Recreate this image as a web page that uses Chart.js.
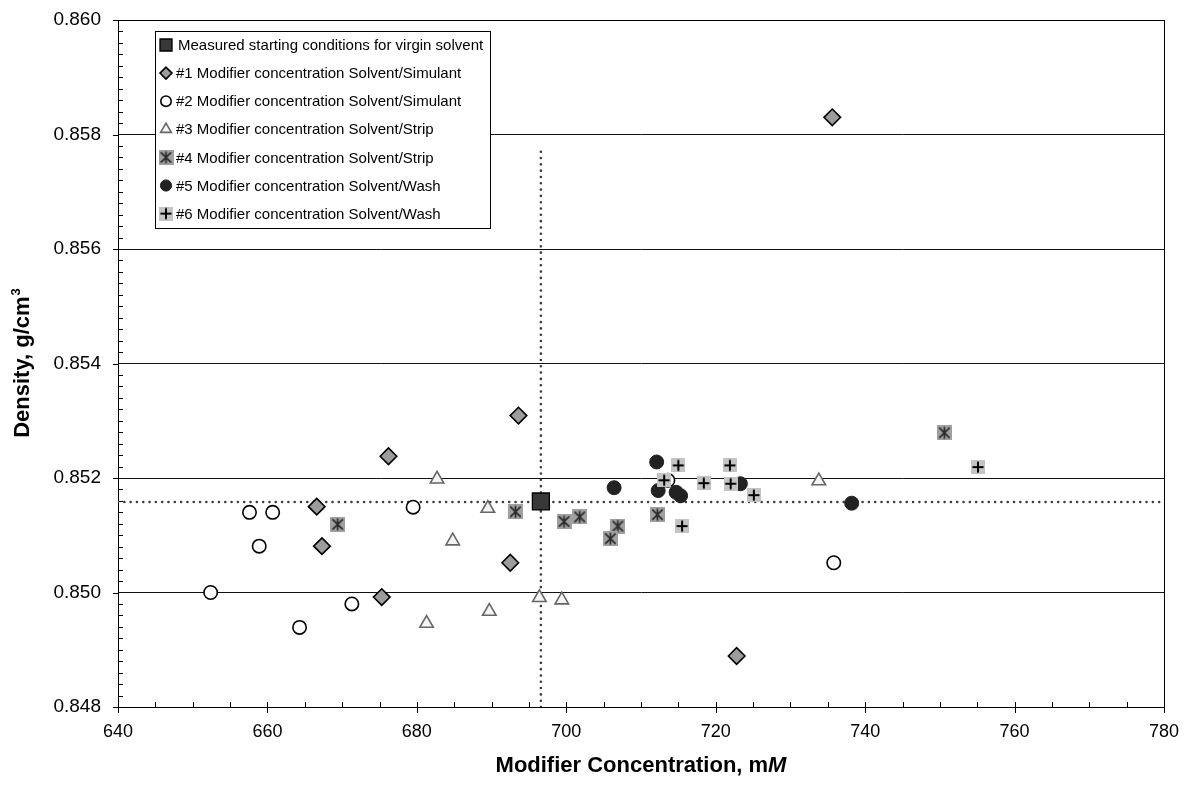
<!DOCTYPE html>
<html>
<head>
<meta charset="utf-8">
<script src="https://cdn.jsdelivr.net/npm/chart.js@4.4.1/dist/chart.umd.min.js"></script>
<style>
  body { margin: 0; background: #fff; }
  #wrap { width: 1194px; height: 785px; position: relative; }
</style>
</head>
<body>
<div id="wrap"><canvas id="densityChart"></canvas></div>
<script>
// ---- data ----
const legendLabels = [
  'Measured starting conditions for virgin solvent',
  '#1 Modifier concentration Solvent/Simulant',
  '#2 Modifier concentration Solvent/Simulant',
  '#3 Modifier concentration Solvent/Strip',
  '#4 Modifier concentration Solvent/Strip',
  '#5 Modifier concentration Solvent/Wash',
  '#6 Modifier concentration Solvent/Wash'
];

const startX = [696.6];
const startY = [0.85159];

const s1X = [676.2, 666.6, 667.3, 675.3, 693.6, 692.5, 722.8, 735.6];
const s1Y = [0.85238, 0.85150, 0.85081, 0.84992, 0.85309, 0.85052, 0.84889, 0.85830];

const s2X = [657.6, 660.7, 658.9, 652.4, 671.3, 664.3, 679.5, 735.8, 713.6];
const s2Y = [0.85140, 0.85140, 0.85081, 0.85000, 0.84980, 0.84939, 0.85149, 0.85052, 0.85196];

const s3X = [682.7, 689.5, 684.8, 696.4, 699.4, 689.7, 681.3, 733.8];
const s3Y = [0.85198, 0.85147, 0.85090, 0.84991, 0.84987, 0.84967, 0.84946, 0.85195];

const s4X = [669.4, 693.2, 699.7, 701.8, 706.9, 705.9, 712.2, 750.6];
const s4Y = [0.85119, 0.85141, 0.85124, 0.85132, 0.85116, 0.85094, 0.85136, 0.85279];

const s5X = [706.4, 712.1, 712.3, 714.7, 715.3, 723.3, 738.2];
const s5Y = [0.85183, 0.85228, 0.85178, 0.85175, 0.85169, 0.85190, 0.85156];

const s6X = [715.0, 713.1, 718.4, 715.5, 721.9, 722.0, 725.1, 755.1];
const s6Y = [0.85222, 0.85196, 0.85191, 0.85116, 0.85222, 0.85190, 0.85170, 0.85219];

// dotted guide lines through the starting point
const refX = 696.6;
const refY = 0.85158;
const refTop = 0.8578;

const xTicks = [640, 660, 680, 700, 720, 740, 760, 780];
const yTicks = [0.848, 0.850, 0.852, 0.854, 0.856, 0.858, 0.860];
const xMinorStep = 5;
const yMinorStep = 0.0002;

const xTitle = 'Modifier Concentration, m';
const xTitleItalic = 'M';
const yTitle = 'Density, g/cm';
const yTitleSup = '3';

function pts(xs, ys) {
  return xs.map((x, i) => ({ x: x, y: ys[i] }));
}

// little square markers with a glyph drawn on top
function asteriskBox() {
  const c = document.createElement('canvas');
  c.width = 15; c.height = 15;
  const g = c.getContext('2d');
  g.fillStyle = '#a0a0a0';
  g.fillRect(0, 0, 15, 15);
  g.strokeStyle = '#2a2a2a';
  g.lineWidth = 1.7;
  g.beginPath();
  g.moveTo(7.5, 1.5); g.lineTo(7.5, 13.5);
  g.moveTo(2.3, 2.3); g.lineTo(12.7, 12.7);
  g.moveTo(12.7, 2.3); g.lineTo(2.3, 12.7);
  g.stroke();
  return c;
}
function plusBox() {
  const c = document.createElement('canvas');
  c.width = 14; c.height = 14;
  const g = c.getContext('2d');
  g.fillStyle = '#c4c4c4';
  g.fillRect(0, 0, 14, 14);
  g.strokeStyle = '#000';
  g.lineWidth = 2;
  g.beginPath();
  g.moveTo(1.5, 7); g.lineTo(12.5, 7);
  g.moveTo(7, 1.5); g.lineTo(7, 12.5);
  g.stroke();
  return c;
}
const asteriskImg = asteriskBox();
const plusImg = plusBox();

const FONT = "'Liberation Sans', Arial, sans-serif";
Chart.defaults.font.family = FONT;
Chart.defaults.color = '#000';

const axisExtras = {
  id: 'axisExtras',
  beforeDatasetsDraw(chart) {
    const { ctx, chartArea: a, scales: { x, y } } = chart;
    ctx.save();
    ctx.strokeStyle = '#000';
    ctx.lineWidth = 1;
    ctx.strokeRect(Math.round(a.left) + 0.5, Math.round(a.top) + 0.5,
      Math.round(a.right - a.left), Math.round(a.bottom - a.top));
    ctx.beginPath();
    // y minor ticks (inside) and major ticks (outside)
    for (let v = y.min; v <= y.max + 1e-9; v += yMinorStep) {
      const py = Math.round(y.getPixelForValue(v)) + 0.5;
      const isMajor = yTicks.some(t => Math.abs(t - v) < 1e-7);
      if (isMajor) { ctx.moveTo(a.left - 5, py); ctx.lineTo(a.left, py); }
      else { ctx.moveTo(a.left, py); ctx.lineTo(a.left + 5, py); }
    }
    // x minor ticks (inside), majors crossing
    for (let v = x.min; v <= x.max + 1e-9; v += xMinorStep) {
      const px = Math.round(x.getPixelForValue(v)) + 0.5;
      const isMajor = xTicks.includes(v);
      if (isMajor) { ctx.moveTo(px, a.bottom - 5); ctx.lineTo(px, a.bottom + 6); }
      else { ctx.moveTo(px, a.bottom - 5); ctx.lineTo(px, a.bottom); }
    }
    ctx.stroke();
    ctx.restore();
  },
  afterDraw(chart) {
    const { ctx, chartArea: a } = chart;
    ctx.save();
    ctx.fillStyle = '#000';
    ctx.textBaseline = 'middle';
    ctx.textAlign = 'left';
    const size = 22;
    const bold = `bold ${size}px ${FONT}`;
    const boldIt = `italic bold ${size}px ${FONT}`;
    const sup = `bold ${Math.round(size * 0.6)}px ${FONT}`;
    // x title
    ctx.font = bold;
    const w1 = ctx.measureText(xTitle).width;
    ctx.font = boldIt;
    const w2 = ctx.measureText(xTitleItalic).width;
    const sx0 = (a.left + a.right) / 2 - (w1 + w2) / 2;
    ctx.font = bold;
    ctx.fillText(xTitle, sx0, 766);
    ctx.font = boldIt;
    ctx.fillText(xTitleItalic, sx0 + w1, 766);
    // y title
    ctx.font = bold;
    const w3 = ctx.measureText(yTitle).width;
    ctx.font = sup;
    const w4 = ctx.measureText(yTitleSup).width;
    ctx.save();
    ctx.translate(23, (a.top + a.bottom) / 2);
    ctx.rotate(-Math.PI / 2);
    const sy0 = -(w3 + w4) / 2;
    ctx.font = bold;
    ctx.fillText(yTitle, sy0, 0);
    ctx.font = sup;
    ctx.fillText(yTitleSup, sy0 + w3 + 1, -7);
    ctx.restore();
    ctx.restore();
  }
};

const boxLegend = {
  id: 'boxLegend',
  afterDatasetsDraw(chart) {
    const { ctx } = chart;
    const left = 155, top = 31, right = 490, bottom = 228;
    ctx.save();
    ctx.fillStyle = '#fff';
    ctx.fillRect(left, top, right - left, bottom - top);
    ctx.strokeStyle = '#000';
    ctx.lineWidth = 1;
    ctx.strokeRect(left + 0.5, top + 0.5, right - left, bottom - top);
    const items = chart.data.datasets.filter(d => d.inLegend);
    ctx.font = `15px ${FONT}`;
    ctx.textBaseline = 'middle';
    items.forEach((d, i) => {
      const cy = 45 + i * 28.1;
      ctx.save();
      ctx.fillStyle = d.backgroundColor;
      ctx.strokeStyle = d.borderColor;
      ctx.lineWidth = d.borderWidth;
      Chart.helpers.drawPoint(ctx, {
        pointStyle: d.pointStyle,
        radius: d.legendRadius,
        rotation: 0,
        borderWidth: d.borderWidth
      }, 166, cy);
      ctx.restore();
      ctx.fillStyle = '#000';
      ctx.fillText(d.label, i === 0 ? 178 : 176, cy + 1);
    });
    ctx.restore();
  }
};

const guideStyle = {
  showLine: true,
  pointRadius: 0,
  borderColor: '#3c3c3c',
  borderWidth: 2.6,
  borderDash: [0.01, 6.3],
  borderCapStyle: 'round',
  fill: false,
  order: 20
};

new Chart('densityChart', {
  type: 'scatter',
  data: {
    datasets: [
      { label: legendLabels[0], inLegend: true, data: pts(startX, startY),
        pointStyle: 'rect', pointRadius: 12, legendRadius: 8.5,
        backgroundColor: '#383838', borderColor: '#000', borderWidth: 1.3, order: 0 },
      { label: legendLabels[1], inLegend: true, data: pts(s1X, s1Y),
        pointStyle: 'rectRot', pointRadius: 8.3, legendRadius: 6,
        backgroundColor: '#9c9c9c', borderColor: '#000', borderWidth: 1.6, order: 7 },
      { label: legendLabels[2], inLegend: true, data: pts(s2X, s2Y),
        pointStyle: 'circle', pointRadius: 6.7, legendRadius: 5.2,
        backgroundColor: '#fff', borderColor: '#000', borderWidth: 1.6, order: 6 },
      { label: legendLabels[3], inLegend: true, data: pts(s3X, s3Y),
        pointStyle: 'triangle', pointRadius: 7.8, legendRadius: 6.2,
        backgroundColor: '#f4f4f4', borderColor: '#666', borderWidth: 1.6, order: 5 },
      { label: legendLabels[4], inLegend: true, data: pts(s4X, s4Y),
        pointStyle: asteriskImg, pointRadius: 7.5, legendRadius: 7.5,
        backgroundColor: '#a0a0a0', borderColor: '#2a2a2a', borderWidth: 1, order: 4 },
      { label: legendLabels[5], inLegend: true, data: pts(s5X, s5Y),
        pointStyle: 'circle', pointRadius: 7, legendRadius: 5.6,
        backgroundColor: '#222', borderColor: '#222', borderWidth: 1, order: 3 },
      { label: legendLabels[6], inLegend: true, data: pts(s6X, s6Y),
        pointStyle: plusImg, pointRadius: 7, legendRadius: 7,
        backgroundColor: '#c4c4c4', borderColor: '#000', borderWidth: 1, order: 2 },
      Object.assign({ label: 'h-guide', data: [{ x: 640, y: refY }, { x: 780, y: refY }] }, guideStyle),
      Object.assign({ label: 'v-guide', data: [{ x: refX, y: 0.848 }, { x: refX, y: refTop }] }, guideStyle)
    ]
  },
  options: {
    responsive: true,
    maintainAspectRatio: false,
    animation: false,
    events: [],
    layout: { padding: { top: 20, right: 30, left: 0, bottom: 0 } },
    plugins: { legend: { display: false }, tooltip: { enabled: false } },
    scales: {
      x: {
        type: 'linear', min: 640, max: 780,
        afterFit: s => { s.height = 78; s.paddingLeft = 0; s.paddingRight = 0; },
        afterBuildTicks: s => { s.ticks = xTicks.map(v => ({ value: v })); },
        ticks: { font: { size: 18 }, padding: 6, maxRotation: 0 },
        grid: { display: false },
        border: { display: true, color: '#000', width: 1 }
      },
      y: {
        type: 'linear', min: 0.848, max: 0.860,
        afterFit: s => { s.width = 118; s.paddingTop = 0; s.paddingBottom = 0; },
        afterBuildTicks: s => { s.ticks = yTicks.map(v => ({ value: v })); },
        ticks: { font: { size: 19 }, padding: 17, callback: v => v.toFixed(3) },
        grid: { color: '#111', lineWidth: 1, drawTicks: false },
        border: { display: true, color: '#000', width: 1 }
      }
    }
  },
  plugins: [axisExtras, boxLegend]
});
</script>
</body>
</html>
